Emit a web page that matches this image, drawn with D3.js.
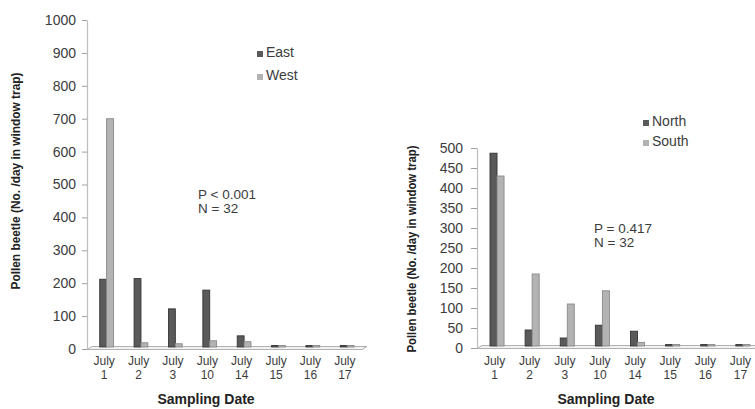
<!DOCTYPE html>
<html>
<head>
<meta charset="utf-8">
<script src="https://cdn.jsdelivr.net/npm/d3@7"></script>
<style>
  html, body { margin: 0; padding: 0; background: #fff; }
  svg { display: block; font-family: "Liberation Sans", Arial, sans-serif; }
</style>
</head>
<body>
<svg id="chart" width="755" height="409"></svg>
<script>
// Sampling dates (two-line category labels)
const dateMonth = ["July", "July", "July", "July", "July", "July", "July", "July"];
const dateDay = ["1", "2", "3", "10", "14", "15", "16", "17"];
const dates = dateDay.map((d, i) => dateMonth[i] + " " + d);

// Pollen beetles per day in window traps, east vs west
const east = [212, 214, 122, 179, 40, 10, 6, 7];
const west = [700, 19, 16, 25, 22, 4, 3, 3];
// north vs south
const north = [487, 45, 25, 57, 42, 6, 3, 5];
const south = [430, 185, 110, 143, 14, 3, 3, 2];

const leftTicks = [0, 100, 200, 300, 400, 500, 600, 700, 800, 900, 1000];
const rightTicks = [0, 50, 100, 150, 200, 250, 300, 350, 400, 450, 500];

const yTitle = "Pollen beetle (No. /day in window trap)";
const xTitle = "Sampling Date";

const darkFill = "#5a5a5a", darkStroke = "#353535";
const lightFill = "#b3b3b3", lightStroke = "#8a8a8a";
const textColor = "#3c3c3c";

const svg = d3.select("#chart");

function panel(cfg) {
  const g = svg.append("g");
  const x = d3.scaleBand().domain(dates).range(cfg.xRange);
  const y = d3.scaleLinear().domain([0, cfg.yMax]).range(cfg.yRange);
  const bw = x.bandwidth();
  const barW = bw * 0.2;
  const y0 = y(0);

  // floor slab (thin perspective parallelogram)
  const fx0 = cfg.xRange[0], fx1 = cfg.xRange[1];
  g.append("path")
    .attr("d", `M${fx0},${y0 + 0.5} L${fx0 + 5},${y0 - 2.5} L${fx1 + 5},${y0 - 2.5} L${fx1},${y0 + 0.5} Z`)
    .attr("fill", "#f2f2f2").attr("stroke", "#a8a8a8").attr("stroke-width", 0.9);

  // vertical axis
  const axis = d3.axisLeft(y).tickValues(cfg.ticks).tickFormat(d3.format("d"))
    .tickSize(cfg.tickSize).tickSizeOuter(0).tickPadding(cfg.tickPad);
  const ax = g.append("g").attr("transform", `translate(${fx0},0)`).call(axis);
  ax.select(".domain").attr("stroke", "#bdbdbd").attr("stroke-width", 1.2);
  ax.selectAll(".tick line").attr("stroke", "#a0a0a0");
  ax.selectAll(".tick text").attr("fill", textColor)
    .style("font-size", "14px").style("font-family", "Liberation Sans, Arial, sans-serif");

  // bars
  const series = [
    { vals: cfg.s1, fill: darkFill, stroke: darkStroke, off: 0 },
    { vals: cfg.s2, fill: lightFill, stroke: lightStroke, off: 1 }
  ];
  series.forEach(s => {
    g.selectAll(null).data(dates).enter().append("rect")
      .attr("x", d => x(d) + bw * 0.37 + s.off * barW)
      .attr("y", (d, i) => Math.min(y(s.vals[i]), y0 - 3.5))
      .attr("width", barW)
      .attr("height", (d, i) => Math.max(1.5, y0 - 2 - Math.min(y(s.vals[i]), y0 - 3.5)))
      .attr("fill", s.fill).attr("stroke", s.stroke).attr("stroke-width", 0.9);
  });

  // category labels, month over day
  ["month", "day"].forEach((row, r) => {
    g.selectAll(null).data(dates).enter().append("text")
      .attr("x", d => x(d) + bw / 2)
      .attr("y", cfg.labY + r * 13.5)
      .attr("text-anchor", "middle").attr("fill", textColor)
      .style("font-size", "12px")
      .text((d, i) => r === 0 ? dateMonth[i] : dateDay[i]);
  });

  // axis titles
  g.append("text").attr("x", cfg.xTitleX).attr("y", 404).attr("text-anchor", "middle")
    .attr("fill", "#222").style("font-size", "14px").style("font-weight", "bold")
    .text(xTitle);
  g.append("text")
    .attr("transform", `translate(${cfg.yTitleX},${cfg.yTitleY}) rotate(-90)`)
    .attr("text-anchor", "middle").attr("fill", "#222")
    .style("font-size", "12.5px").style("font-weight", "bold")
    .attr("textLength", cfg.yTitleLen).attr("lengthAdjust", "spacingAndGlyphs")
    .text(yTitle);

  // legend
  cfg.legend.forEach((name, i) => {
    const ly = cfg.legY + i * cfg.legGap;
    g.append("rect").attr("x", cfg.legX).attr("y", ly - 6).attr("width", 6).attr("height", 6)
      .attr("fill", i === 0 ? darkFill : lightFill);
    g.append("text").attr("x", cfg.legX + 9).attr("y", ly).attr("fill", textColor)
      .style("font-size", "14px").text(name);
  });

  // statistics note
  cfg.note.forEach((t, i) => {
    g.append("text").attr("x", cfg.noteX).attr("y", cfg.noteY + i * 14)
      .attr("fill", textColor).style("font-size", "13.5px").text(t);
  });
}

panel({
  xRange: [87, 362], yRange: [349, 20], yMax: 1000, ticks: leftTicks,
  tickSize: 5, tickPad: 6, s1: east, s2: west, labY: 365,
  xTitleX: 206, yTitleX: 20, yTitleY: 181, yTitleLen: 217,
  legend: ["East", "West"], legX: 257, legY: 57, legGap: 23,
  note: ["P < 0.001", "N = 32"], noteX: 198, noteY: 199
});

panel({
  xRange: [477, 758], yRange: [348, 148], yMax: 500, ticks: rightTicks,
  tickSize: 6, tickPad: 8, s1: north, s2: south, labY: 365,
  xTitleX: 606, yTitleX: 416, yTitleY: 249, yTitleLen: 207,
  legend: ["North", "South"], legX: 643, legY: 126, legGap: 20,
  note: ["P = 0.417", "N = 32"], noteX: 594, noteY: 233
});
</script>
</body>
</html>
